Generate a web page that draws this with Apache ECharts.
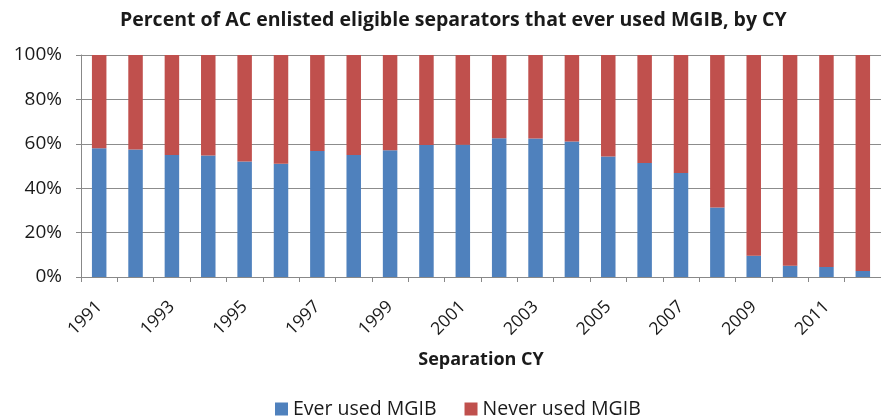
<!DOCTYPE html>
<html><head><meta charset="utf-8">
<script src="https://cdn.jsdelivr.net/npm/echarts@6/dist/echarts.min.js"></script>
<style>html,body{margin:0;padding:0;background:#fff}#c{width:881px;height:420px}</style>
</head><body><div id="c"></div>
<script>
const years = ['1991','1992','1993','1994','1995','1996','1997','1998','1999','2000','2001','2002','2003','2004','2005','2006','2007','2008','2009','2010','2011','2012'];
const everUsed = [58.0,57.4,55.0,54.7,52.0,51.0,56.8,54.9,57.1,59.5,59.6,62.5,62.4,61.0,54.3,51.4,46.9,31.3,9.6,5.1,4.5,2.7];
const neverUsed = everUsed.map(v => +(100 - v).toFixed(1));
const yTicks = [0,20,40,60,80,100];
const FONT = '"Open Sans", sans-serif';
const chart = echarts.init(document.getElementById('c'));
chart.setOption({
  animation:false,
  title:{text:'Percent of AC enlisted eligible separators that ever used MGIB, by CY',left:115,top:5,
    textStyle:{fontFamily:FONT,fontSize:19.5,fontWeight:'bold',color:'#1a1a1a'}},
  legend:{top:394,left:270,itemWidth:13,itemHeight:13,itemGap:28,icon:'rect',
    textStyle:{fontFamily:FONT,fontSize:19.5,color:'#1a1a1a',padding:[0,0,0,0]}},
  grid:{left:81,right:-7,top:55,bottom:143,containLabel:false},
  xAxis:{type:'category',data:years,name:'Separation CY',nameLocation:'middle',nameGap:74,
    nameTextStyle:{fontFamily:FONT,fontSize:18,fontWeight:'bold',color:'#1a1a1a'},
    axisLine:{lineStyle:{color:'#888'}},
    axisTick:{show:true,interval:0,alignWithLabel:false,length:5,lineStyle:{color:'#888'}},
    axisLabel:{interval:1,rotate:45,fontFamily:FONT,fontSize:17.5,color:'#1a1a1a',margin:27}},
  yAxis:{type:'value',min:0,max:100,interval:20,
    axisLine:{show:true,lineStyle:{color:'#888'}},
    axisTick:{show:true,length:5,lineStyle:{color:'#888'}},
    splitLine:{lineStyle:{color:'#8c8c8c'}},
    axisLabel:{fontFamily:FONT,fontSize:19,color:'#1a1a1a',margin:19,formatter:v=>yTicks.includes(v)?v+'%':''}},
  series:[
    {name:'Ever used MGIB',type:'bar',stack:'a',data:everUsed,barWidth:14.5,itemStyle:{color:'#4F81BD'}},
    {name:'Never used MGIB',type:'bar',stack:'a',data:neverUsed,barWidth:14.5,itemStyle:{color:'#C0504D'}}
  ]
});
</script></body></html>
